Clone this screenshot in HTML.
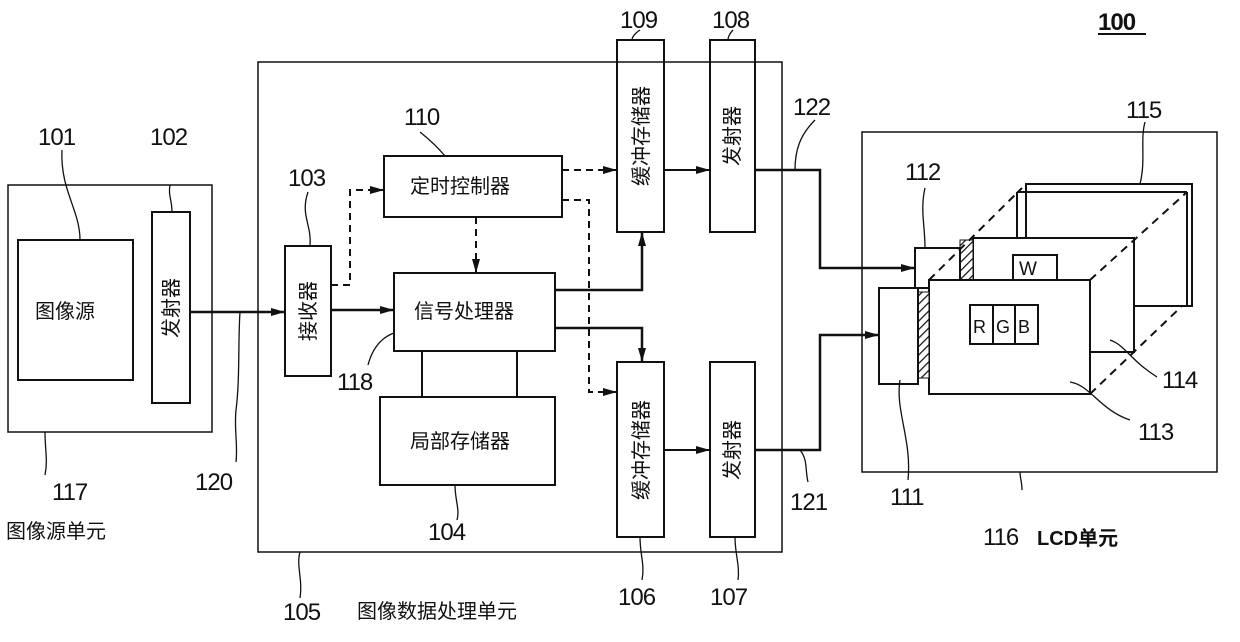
<!DOCTYPE html>
<html><head><meta charset="utf-8"><style>
html,body{margin:0;padding:0;background:#fff;}
svg{display:block}
text{font-family:"Liberation Sans","Noto Sans CJK SC",sans-serif;fill:#111;}
.n{font-size:24px;letter-spacing:-1px;}
.c{font-size:20px;}
</style></head><body>
<svg width="1240" height="642" viewBox="0 0 1240 642" xmlns="http://www.w3.org/2000/svg">
<defs>
<marker id="a" markerWidth="14" markerHeight="8" refX="13" refY="4" orient="auto" markerUnits="userSpaceOnUse"><path d="M0,0 L14,4 L0,8 Z" fill="#111"/></marker>
<pattern id="h" width="6" height="6" patternUnits="userSpaceOnUse" patternTransform="rotate(45)"><rect width="6" height="6" fill="#fff"/><line x1="0" y1="0" x2="0" y2="6" stroke="#111" stroke-width="2.5"/></pattern>
</defs>
<g fill="none" stroke="#111" stroke-width="2">
<rect x="8" y="185" width="204" height="247" stroke-width="1.5"/>
<rect x="18" y="240" width="115" height="140"/>
<rect x="152" y="212" width="38" height="191"/>
<line x1="190" y1="312" x2="284" y2="312" stroke-width="2.5" marker-end="url(#a)"/>
<rect x="258" y="62" width="524" height="490" stroke-width="1.5"/>
<rect x="285" y="246" width="46" height="130"/>
<rect x="384" y="156" width="178" height="61"/>
<rect x="394" y="273" width="161" height="78"/>
<rect x="380" y="397" width="175" height="88"/>
<line x1="422" y1="351" x2="422" y2="397"/>
<line x1="517" y1="351" x2="517" y2="397"/>
<rect x="617" y="40" width="47" height="192"/>
<rect x="710" y="40" width="45" height="192"/>
<rect x="617" y="362" width="47" height="175"/>
<rect x="710" y="362" width="45" height="175"/>
<line x1="331" y1="310" x2="393" y2="310" stroke-width="2.5" marker-end="url(#a)"/>
<polyline points="555,290 642,290 642,233" stroke-width="2.5" marker-end="url(#a)"/>
<polyline points="555,328 642,328 642,361" stroke-width="2.5" marker-end="url(#a)"/>
<line x1="664" y1="170" x2="709" y2="170" stroke-width="2" marker-end="url(#a)"/>
<line x1="664" y1="450" x2="709" y2="450" stroke-width="2" marker-end="url(#a)"/>
<g stroke-dasharray="7,5">
<polyline points="331,285 350,285 350,190 383,190" marker-end="url(#a)"/>
<polyline points="562,170 616,170" marker-end="url(#a)"/>
<polyline points="562,200 589,200 589,392 616,392" marker-end="url(#a)"/>
<line x1="476" y1="217" x2="476" y2="272" marker-end="url(#a)"/>
</g>
<polyline points="755,170 820,170 820,268 914,268" stroke-width="2.5" marker-end="url(#a)"/>
<polyline points="755,450 820,450 820,335 878,335" stroke-width="2.5" marker-end="url(#a)"/>
<rect x="862" y="132" width="355" height="340" stroke-width="1.5"/>
<rect x="1026" y="184" width="166" height="122" fill="#fff"/>
<line x1="1017" y1="192" x2="1017" y2="306"/>
<line x1="1017" y1="192" x2="1187" y2="192"/>
<line x1="1187" y1="192" x2="1187" y2="306"/>
<rect x="973" y="238" width="161" height="114" fill="#fff"/>
<rect x="1013" y="255" width="44" height="25" fill="#fff"/>
<rect x="960" y="240" width="13" height="42" fill="url(#h)" stroke-width="1"/>
<rect x="915" y="248" width="45" height="40" fill="#fff"/>
<rect x="929" y="280" width="161" height="114" fill="#fff"/>
<rect x="918" y="292" width="11" height="86" fill="url(#h)" stroke-width="1"/>
<rect x="879" y="288" width="39" height="96" fill="#fff"/>
<rect x="970" y="305" width="23" height="39"/>
<rect x="993" y="305" width="22" height="39"/>
<rect x="1015" y="305" width="23" height="39"/>
<g stroke-dasharray="8,6">
<line x1="929" y1="280" x2="1022" y2="188"/>
<line x1="1090" y1="280" x2="1187" y2="192"/>
<line x1="1090" y1="394" x2="1182" y2="306"/>
</g>
<g stroke-width="1.3">
<path d="M62,150 C60,190 80,210 80,240"/>
<path d="M172,212 C172,200 168,195 170,185"/>
<path d="M308,192 C300,215 312,225 310,246"/>
<path d="M420,132 C430,140 440,150 445,156"/>
<path d="M632,40 C632,35 640,30 640,30"/>
<path d="M728,40 C728,35 733,30 733,30"/>
<path d="M394,333 C380,338 372,350 368,365"/>
<path d="M45,432 C45,450 48,460 45,475"/>
<path d="M240,312 C238,340 240,380 236,410 C234,430 238,445 236,462"/>
<path d="M455,485 C455,500 460,510 457,520"/>
<path d="M640,537 C640,555 645,565 642,580"/>
<path d="M735,537 C735,555 740,565 738,580"/>
<path d="M300,552 C296,565 303,580 300,598"/>
<path d="M795,170 C795,150 800,135 815,120"/>
<path d="M800,450 C808,460 805,470 808,482"/>
<path d="M1140,184 C1146,160 1140,140 1145,122"/>
<path d="M925,248 C925,225 920,210 925,188"/>
<path d="M900,380 C895,410 912,440 908,480"/>
<path d="M1110,340 C1125,345 1130,360 1157,377"/>
<path d="M1070,382 C1090,385 1100,410 1130,420"/>
<path d="M1020,472 C1020,478 1022,482 1022,490"/>
</g>
<line x1="1098" y1="34" x2="1146" y2="34" stroke-width="2"/>
</g>
<text x="1098" y="30" class="n" font-weight="bold">100</text>
<text x="38" y="145" class="n">101</text>
<text x="150" y="145" class="n">102</text>
<text x="288" y="186" class="n">103</text>
<text x="404" y="125" class="n">110</text>
<text x="620" y="28" class="n">109</text>
<text x="712" y="28" class="n">108</text>
<text x="793" y="115" class="n">122</text>
<text x="1126" y="118" class="n">115</text>
<text x="905" y="180" class="n">112</text>
<text x="337" y="390" class="n">118</text>
<text x="1162" y="388" class="n">114</text>
<text x="1138" y="440" class="n">113</text>
<text x="52" y="500" class="n">117</text>
<text x="195" y="490" class="n">120</text>
<text x="428" y="540" class="n">104</text>
<text x="790" y="510" class="n">121</text>
<text x="890" y="505" class="n">111</text>
<text x="983" y="545" class="n">116</text>
<text x="1037" y="545" class="c" font-family="Liberation Serif" font-weight="bold">LCD单元</text>
<text x="6" y="538" class="c">图像源单元</text>
<text x="283" y="620" class="n">105</text>
<text x="357" y="618" class="c">图像数据处理单元</text>
<text x="618" y="605" class="n">106</text>
<text x="710" y="605" class="n">107</text>
<text x="35" y="318" class="c">图像源</text>
<text x="410" y="193" class="c">定时控制器</text>
<text x="414" y="318" class="c">信号处理器</text>
<text x="410" y="448" class="c">局部存储器</text>
<text x="1019" y="275" font-size="19">W</text>
<text x="973" y="333" font-size="18">R</text>
<text x="996" y="333" font-size="18">G</text>
<text x="1018" y="333" font-size="18">B</text>
<text transform="translate(178,308) rotate(-90)" text-anchor="middle" class="c">发射器</text>
<text transform="translate(315,311) rotate(-90)" text-anchor="middle" class="c">接收器</text>
<text transform="translate(648,136) rotate(-90)" text-anchor="middle" class="c">缓冲存储器</text>
<text transform="translate(739,136) rotate(-90)" text-anchor="middle" class="c">发射器</text>
<text transform="translate(648,450) rotate(-90)" text-anchor="middle" class="c">缓冲存储器</text>
<text transform="translate(739,450) rotate(-90)" text-anchor="middle" class="c">发射器</text>
</svg>
</body></html>
